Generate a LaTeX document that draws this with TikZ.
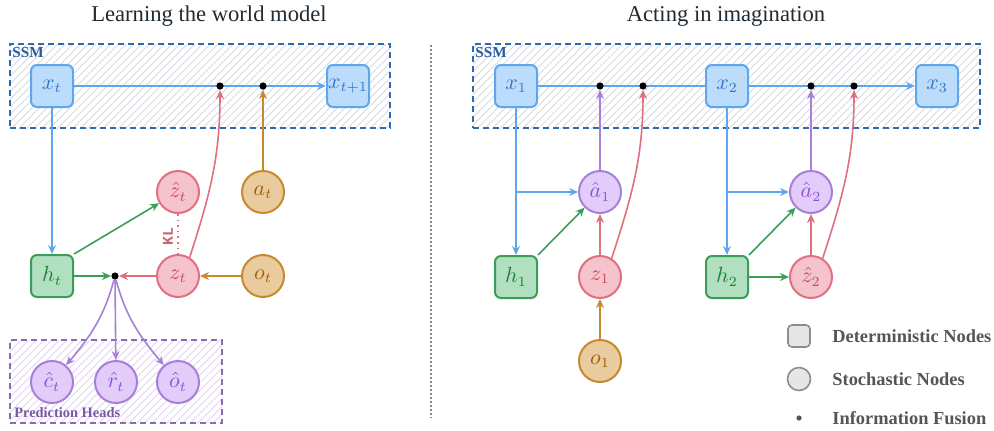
\documentclass[tikz,border=0pt]{standalone}
\usepackage{fontspec}
\setmainfont{Liberation Serif}
\newfontfamily\klfont{Liberation Mono}
\usetikzlibrary{arrows.meta,patterns.meta}
\definecolor{blueFill}{HTML}{BBDCFB}
\definecolor{blueDraw}{HTML}{5EA6EE}
\definecolor{blueText}{HTML}{3473C4}
\definecolor{ssmDraw}{HTML}{2F69AE}
\definecolor{ssmText}{HTML}{2A5C9C}
\definecolor{greenFill}{HTML}{B0E0C0}
\definecolor{greenDraw}{HTML}{3A9E58}
\definecolor{greenText}{HTML}{1F8034}
\definecolor{redFill}{HTML}{F5C3CC}
\definecolor{redDraw}{HTML}{E07080}
\definecolor{redText}{HTML}{C24A5E}
\definecolor{orangeFill}{HTML}{EACB9E}
\definecolor{orangeDraw}{HTML}{C68A2C}
\definecolor{orangeText}{HTML}{9A5E08}
\definecolor{purpleFill}{HTML}{E3CCFA}
\definecolor{purpleDraw}{HTML}{A680D8}
\definecolor{purpleText}{HTML}{8A50D0}
\definecolor{phDraw}{HTML}{8A6AB0}
\definecolor{phText}{HTML}{7A58A8}
\definecolor{phHatch}{HTML}{DCCDEE}
\definecolor{ssmHatch}{HTML}{CDD3DB}
\definecolor{legFill}{HTML}{E6E6E6}
\definecolor{legDraw}{HTML}{8C8C8C}
\definecolor{legText}{HTML}{555555}
\definecolor{titleColor}{HTML}{1F2A33}
\definecolor{sepColor}{HTML}{8A8A8A}
\begin{document}
\begin{tikzpicture}[x=0.5pt,y=-0.5pt,
  lbl/.style={font=\fontsize{10.5}{12}\selectfont},
  detnode/.style={rectangle, rounded corners=3pt, minimum size=21pt, inner sep=0pt, line width=1pt, lbl},
  stonode/.style={circle, minimum size=21pt, inner sep=0pt, line width=1pt, lbl},
  xn/.style={detnode, fill=blueFill, draw=blueDraw, text=blueText},
  hn/.style={detnode, fill=greenFill, draw=greenDraw, text=greenText},
  zn/.style={stonode, fill=redFill, draw=redDraw, text=redText},
  on/.style={stonode, fill=orangeFill, draw=orangeDraw, text=orangeText},
  pn/.style={stonode, fill=purpleFill, draw=purpleDraw, text=purpleText},
  fuse/.style={circle, fill=black, inner sep=0pt, minimum size=3.6pt},
  arr/.style={-{Stealth[length=4.5pt,width=4pt]}, line width=0.8pt},
  ln/.style={line width=0.8pt},
  ssmbox/.style={draw=ssmDraw, line width=1pt, dash pattern=on 3pt off 2pt, pattern={Lines[angle=45,distance=2.7pt,line width=0.35pt]}, pattern color=ssmHatch, inner sep=0pt},
  phbox/.style={draw=phDraw, line width=1pt, dash pattern=on 3pt off 2pt, pattern={Lines[angle=45,distance=2.7pt,line width=0.35pt]}, pattern color=phHatch, inner sep=0pt},
  boxlabel/.style={anchor=west, inner sep=0pt, font=\bfseries\fontsize{7.6}{8}\selectfont},
  title/.style={font=\fontsize{11.3}{13}\selectfont, text=titleColor},
  legtext/.style={anchor=west, inner sep=0pt, font=\bfseries\fontsize{9.2}{11}\selectfont, text=legText}
]
\useasboundingbox (0,0) rectangle (994,430);

% titles
\node[title] (t1) at (209,16) {Learning the world model};
\node[title] (t2) at (726,16) {Acting in imagination};

% background boxes
\node[ssmbox, minimum width=190pt, minimum height=42pt] (ssmL) at (200,86) {};
\node[ssmbox, minimum width=253.5pt, minimum height=42pt] (ssmR) at (726.5,86) {};
\node[phbox, minimum width=106pt, minimum height=41.5pt] (ph) at (116,381.5) {};
\node[boxlabel, text=ssmText] (ssmLl) at (12,53) {SSM};
\node[boxlabel, text=ssmText] (ssmRl) at (475,53) {SSM};
\node[boxlabel, font=\bfseries\fontsize{7.2}{8}\selectfont, text=phText] (phl) at (14,413) {Prediction Heads};

% separator
\coordinate (s1) at (431,45);
\coordinate (s2) at (431,418);
\draw[sepColor, line width=1.1pt, dash pattern=on 1pt off 1pt] (s1) -- (s2);

% ---------- left panel ----------
\node[xn] (xt) at (52,86) {$x_t$};
\node[xn] (xt1) at (348,86) {$x_{t+1}$};
\draw[arr, blueDraw] (xt) -- (xt1);
\node[fuse] (d1) at (220,86) {};
\node[fuse] (d2) at (263,86) {};
\node[hn] (ht) at (52,276) {$h_t$};
\node[zn] (zh) at (178,192) {$\hat{z}_t$};
\node[zn] (zt) at (178,276) {$z_t$};
\node[on] (at) at (263,192) {$a_t$};
\node[on] (ot) at (263,276) {$o_t$};
\node[fuse] (fd) at (115,276) {};
\node[pn] (ct) at (52,382) {$\hat{c}_t$};
\node[pn] (rt) at (116,382) {$\hat{r}_t$};
\node[pn] (ot2) at (178,382) {$\hat{o}_t$};

\draw[arr, blueDraw] (xt) -- (ht);
\draw[arr, greenDraw] (ht.north east) -- (zh);
\draw[arr, greenDraw] (ht) -- (fd);
\draw[arr, redDraw] (zt) -- (fd);
\draw[arr, orangeDraw] (ot) -- (zt);
\draw[arr, orangeDraw] (at) -- (d2);
\draw[arr, redDraw] (zt.58) to[out=72,in=-90] (d1);
\draw[redDraw, ln, dotted] (zh) -- (zt);
\node[rotate=90, inner sep=0pt, font=\klfont\bfseries\fontsize{7.5}{8}\selectfont, text=redDraw!90!black] (kl) at (168,236) {KL};
\draw[arr, purpleDraw] (fd) to[out=-105,in=50] (ct);
\draw[arr, purpleDraw] (fd) -- (rt);
\draw[arr, purpleDraw] (fd) to[out=-75,in=130] (ot2);

% ---------- right panel ----------
\node[xn] (x1) at (516,86) {$x_1$};
\node[xn] (x2) at (727,86) {$x_2$};
\node[xn] (x3) at (937,86) {$x_3$};
\draw[ln, blueDraw] (x1) -- (x2);
\draw[arr, blueDraw] (x2) -- (x3);
\node[fuse] (d3) at (600,86) {};
\node[fuse] (d4) at (643,86) {};
\node[fuse] (d5) at (811,86) {};
\node[fuse] (d6) at (854,86) {};
\node[pn] (a1) at (600,192) {$\hat{a}_1$};
\node[pn] (a2) at (811,192) {$\hat{a}_2$};
\node[hn] (h1) at (516,277) {$h_1$};
\node[hn] (h2) at (727,277) {$h_2$};
\node[zn] (z1) at (600,277) {$z_1$};
\node[zn] (zh2) at (811,277) {$\hat{z}_2$};
\node[on] (o1) at (600,361) {$o_1$};

\draw[arr, blueDraw] (x1) -- (h1);
\draw[arr, blueDraw] (x1.south |- a1) -- (a1);
\draw[arr, blueDraw] (x2) -- (h2);
\draw[arr, blueDraw] (x2.south |- a2) -- (a2);
\draw[arr, greenDraw] (h1.north east) -- (a1);
\draw[arr, greenDraw] (h2.north east) -- (a2);
\draw[arr, greenDraw] (h2) -- (zh2);
\draw[arr, redDraw] (z1) -- (a1);
\draw[arr, redDraw] (zh2) -- (a2);
\draw[arr, purpleDraw] (a1) -- (d3);
\draw[arr, purpleDraw] (a2) -- (d5);
\draw[arr, redDraw] (z1.58) to[out=72,in=-90] (d4);
\draw[arr, redDraw] (zh2.58) to[out=72,in=-90] (d6);
\draw[arr, orangeDraw] (o1) -- (z1);

% ---------- legend ----------
\node[rectangle, rounded corners=2pt, minimum size=11pt, inner sep=0pt, fill=legFill, draw=legDraw, line width=0.8pt] (lg1) at (799,336) {};
\node[circle, minimum size=11.5pt, inner sep=0pt, fill=legFill, draw=legDraw, line width=0.8pt] (lg2) at (799,379) {};
\node[circle, minimum size=2.6pt, inner sep=0pt, fill=legText] (lg3) at (799,418) {};
\node[legtext] (lt1) at (832,336) {Deterministic Nodes};
\node[legtext] (lt2) at (832,379) {Stochastic Nodes};
\node[legtext] (lt3) at (832,418) {Information Fusion};
\end{tikzpicture}
\end{document}
